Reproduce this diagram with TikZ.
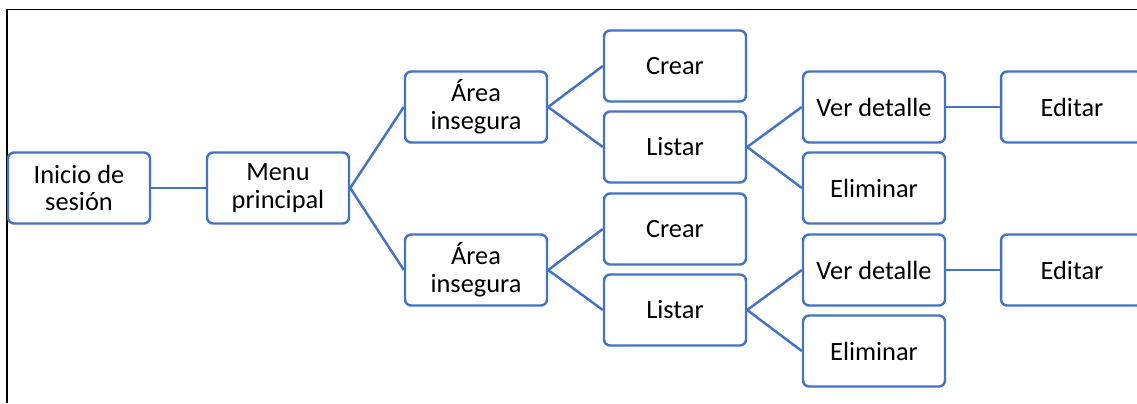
\documentclass[tikz,border=0pt]{standalone}
\usepackage{fontspec}
\setmainfont{Carlito}
\usepackage{tikz}
\usetikzlibrary{positioning}
\definecolor{azul}{RGB}{68,114,196}
\tikzset{
  caja/.style={draw=azul,line width=1.4pt,rounded corners=3.5pt,minimum width=2.84cm,
    minimum height=1.42cm,align=center,inner sep=1pt,font=\fontsize{15}{15.8}\selectfont},
  rama/.style={draw=azul,line width=1.4pt}
}
\begin{document}
\begin{tikzpicture}[x=0.02cm,y=-0.02cm]
\useasboundingbox (0,0) rectangle (1137,403);
\draw[line width=1pt] (7,403) -- (7,9.5) -- (1137,9.5);
\node[caja] (inicio) at (79,188) {Inicio de\\sesión};
\node[caja] (menu) at (278,188) {Menu\\principal};
\node[caja] (area1) at (476,107) {Área\\insegura};
\node[caja] (area2) at (476,270) {Área\\insegura};
\node[caja] (crear1) at (675,66) {Crear};
\node[caja] (listar1) at (675,147) {Listar};
\node[caja] (crear2) at (675,229) {Crear};
\node[caja] (listar2) at (675,310) {Listar};
\node[caja] (ver1) at (874,107) {Ver detalle};
\node[caja] (elim1) at (874,188) {Eliminar};
\node[caja] (ver2) at (874,270) {Ver detalle};
\node[caja] (elim2) at (874,351) {Eliminar};
\node[caja] (edit1) at (1072,107) {Editar};
\node[caja] (edit2) at (1072,270) {Editar};
\draw[rama] (inicio.east) -- (menu.west);
\draw[rama] (menu.east) -- (area1.west);
\draw[rama] (menu.east) -- (area2.west);
\draw[rama] (area1.east) -- (crear1.west);
\draw[rama] (area1.east) -- (listar1.west);
\draw[rama] (area2.east) -- (crear2.west);
\draw[rama] (area2.east) -- (listar2.west);
\draw[rama] (listar1.east) -- (ver1.west);
\draw[rama] (listar1.east) -- (elim1.west);
\draw[rama] (listar2.east) -- (ver2.west);
\draw[rama] (listar2.east) -- (elim2.west);
\draw[rama] (ver1.east) -- (edit1.west);
\draw[rama] (ver2.east) -- (edit2.west);
\end{tikzpicture}
\end{document}
